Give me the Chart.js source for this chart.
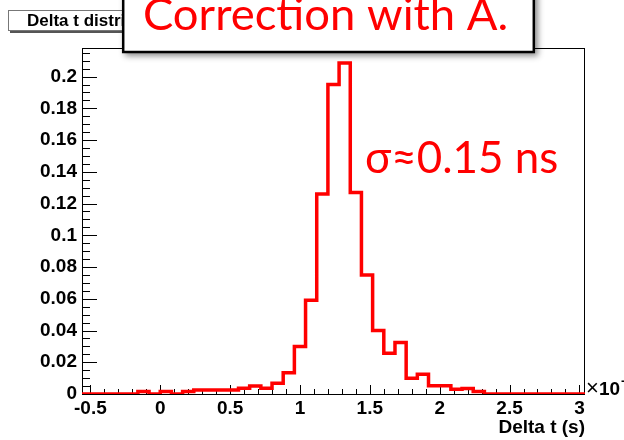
<!DOCTYPE html>
<html lang="en">
<head>
<meta charset="UTF-8">
<title>Delta t distribution</title>
<script src="https://cdn.jsdelivr.net/npm/chart.js"></script>
<style>
  html, body { margin: 0; padding: 0; background: #fff; }
  #wrap { width: 624px; height: 440px; position: relative; overflow: hidden; }
</style>
</head>
<body>
<div id="wrap"><canvas id="deltaChart" width="624" height="440"></canvas></div>
<script>
// histogram: 45 bins of 0.08 (x1e-9 s) from -0.56 to 3.04, normalised to 1
const binLow = -0.56;
const binWidth = 0.08;
const binValues = [
  0, 0, 0, 0, 0, 0.0015, 0, 0.0015, 0, 0.0015,
  0.0025, 0.0025, 0.0025, 0.0025, 0.0036, 0.005, 0.0036, 0.0068, 0.0134, 0.030,
  0.059, 0.126, 0.195, 0.2085, 0.127, 0.075, 0.040, 0.0257, 0.0324, 0.0099,
  0.0124, 0.0052, 0.0052, 0.003, 0.0035, 0.0015, 0, 0, 0, 0,
  0, 0, 0, 0, 0
];
const xTicks = [-0.5, 0, 0.5, 1, 1.5, 2, 2.5, 3];
const yTicks = [0, 0.02, 0.04, 0.06, 0.08, 0.1, 0.12, 0.14, 0.16, 0.18, 0.2];
const yMax = 0.218;
const xMinorStep = 0.1;
const yMinorStep = 0.005;

const histTitle = 'Delta t distribution';
const xTitle = 'Delta t (s)';
const boxText = 'Correction with A.';
const sigmaText = 'σ≈0.15 ns';

const xMax = binLow + binValues.length * binWidth;
const points = binValues.map((v, i) => ({ x: binLow + i * binWidth, y: v }));
points.push({ x: xMax, y: binValues[binValues.length - 1] });

const axisFont = { family: '"Liberation Sans", Arial, sans-serif', size: 19, weight: 'bold' };

function fitFont(ctx, text, width, family) {
  ctx.font = '100px ' + family;
  const size = 100 * width / ctx.measureText(text).width;
  return size.toFixed(1) + 'px ' + family;
}

// ROOT-like frame, inward ticks and the overlaid annotations
const rootStyle = {
  id: 'rootStyle',
  beforeDraw(chart) {
    const ctx = chart.ctx;
    ctx.save();
    ctx.fillStyle = '#fff';
    ctx.fillRect(0, 0, chart.width, chart.height);
    ctx.restore();
  },
  beforeDatasetsDraw(chart) {
    const { ctx, chartArea: a, scales } = chart;
    const xs = scales.x, ys = scales.y;
    ctx.save();
    ctx.strokeStyle = '#000';
    ctx.lineWidth = 1;
    ctx.strokeRect(Math.round(a.left) + 0.5, Math.round(a.top) + 0.5,
      Math.round(a.right - a.left) - 1, Math.round(a.bottom - a.top));
    ctx.beginPath();
    // y ticks
    for (let v = 0; v <= yMax + 1e-9; v += yMinorStep) {
      const major = yTicks.some(t => Math.abs(t - v) < 1e-6);
      const py = Math.round(ys.getPixelForValue(v)) + 0.5;
      ctx.moveTo(a.left, py);
      ctx.lineTo(a.left + (major ? 15 : 8), py);
    }
    // x ticks
    for (let v = xTicks[0]; v <= xMax + 1e-9; v += xMinorStep) {
      const major = xTicks.some(t => Math.abs(t - v) < 1e-6);
      const px = Math.round(xs.getPixelForValue(v)) + 0.5;
      ctx.moveTo(px, a.bottom);
      ctx.lineTo(px, a.bottom - (major ? 9 : 5));
    }
    ctx.stroke();
    ctx.restore();
  },
  afterDraw(chart) {
    const { ctx, chartArea: a } = chart;
    ctx.save();

    // exponent of the x axis (cut by the canvas edge, as in the original)
    ctx.fillStyle = '#000';
    ctx.textBaseline = 'alphabetic';
    ctx.font = '22px "Liberation Sans", Arial, sans-serif';
    ctx.fillText('×', a.right + 1, a.bottom + 1);
    ctx.font = 'bold 19px "Liberation Sans", Arial, sans-serif';
    ctx.fillText('10', a.right + 14, a.bottom + 1);
    ctx.font = 'bold 13px "Liberation Sans", Arial, sans-serif';
    ctx.fillText('-9', a.right + 36, a.bottom - 9);

    // histogram title pave
    ctx.fillStyle = '#555';
    ctx.fillRect(10, 12, 190, 21);
    ctx.fillStyle = '#fff';
    ctx.fillRect(8, 10, 190, 21);
    ctx.strokeStyle = '#777';
    ctx.lineWidth = 1;
    ctx.strokeRect(8.5, 10.5, 189, 20);
    ctx.fillStyle = '#000';
    ctx.font = 'bold 17px "Liberation Sans", Arial, sans-serif';
    ctx.textBaseline = 'middle';
    ctx.fillText(histTitle, 27, 21);

    // slide box on top
    ctx.save();
    ctx.shadowColor = 'rgba(0,0,0,0.45)';
    ctx.shadowBlur = 6;
    ctx.shadowOffsetX = 3;
    ctx.shadowOffsetY = 3;
    ctx.fillStyle = '#fff';
    ctx.fillRect(122, -10, 413, 63);
    ctx.restore();
    ctx.strokeStyle = '#000';
    ctx.lineWidth = 2.5;
    ctx.strokeRect(123.2, -10, 410.6, 62);

    ctx.fillStyle = '#ff0000';
    ctx.textBaseline = 'alphabetic';
    ctx.font = fitFont(ctx, boxText, 365, 'Lato, "Open Sans", sans-serif');
    ctx.fillText(boxText, 143, 30);
    ctx.font = fitFont(ctx, sigmaText, 193, 'Lato, "Open Sans", sans-serif');
    ctx.fillText(sigmaText, 365, 173);
    ctx.restore();
  }
};

new Chart(document.getElementById('deltaChart'), {
  type: 'line',
  data: {
    datasets: [{
      data: points,
      stepped: true,
      borderColor: '#ff0000',
      borderWidth: 3.5,
      pointRadius: 0,
      fill: false
    }]
  },
  options: {
    responsive: false,
    animation: false,
    devicePixelRatio: 1,
    layout: { padding: { top: 48, right: 39, left: 0, bottom: 0 } },
    plugins: { legend: { display: false }, tooltip: { enabled: false } },
    scales: {
      x: {
        type: 'linear',
        min: binLow,
        max: xMax,
        grid: { display: false, drawTicks: false },
        border: { display: false },
        afterBuildTicks: s => { s.ticks = xTicks.map(v => ({ value: v })); },
        afterFit: s => { s.height = 46; },
        ticks: {
          color: '#000',
          font: axisFont,
          padding: 3,
          maxRotation: 0,
          autoSkip: false,
          callback: v => String(v)
        },
        title: {
          display: true,
          text: xTitle,
          align: 'end',
          color: '#000',
          font: axisFont,
          padding: { top: 0, bottom: 1 }
        }
      },
      y: {
        min: 0,
        max: yMax,
        grid: { display: false, drawTicks: false },
        border: { display: false },
        afterBuildTicks: s => { s.ticks = yTicks.map(v => ({ value: v })); },
        afterFit: s => { s.width = 82; },
        ticks: {
          color: '#000',
          font: axisFont,
          padding: 5,
          callback: v => String(+v.toFixed(2))
        }
      }
    }
  },
  plugins: [rootStyle]
});
</script>
</body>
</html>
